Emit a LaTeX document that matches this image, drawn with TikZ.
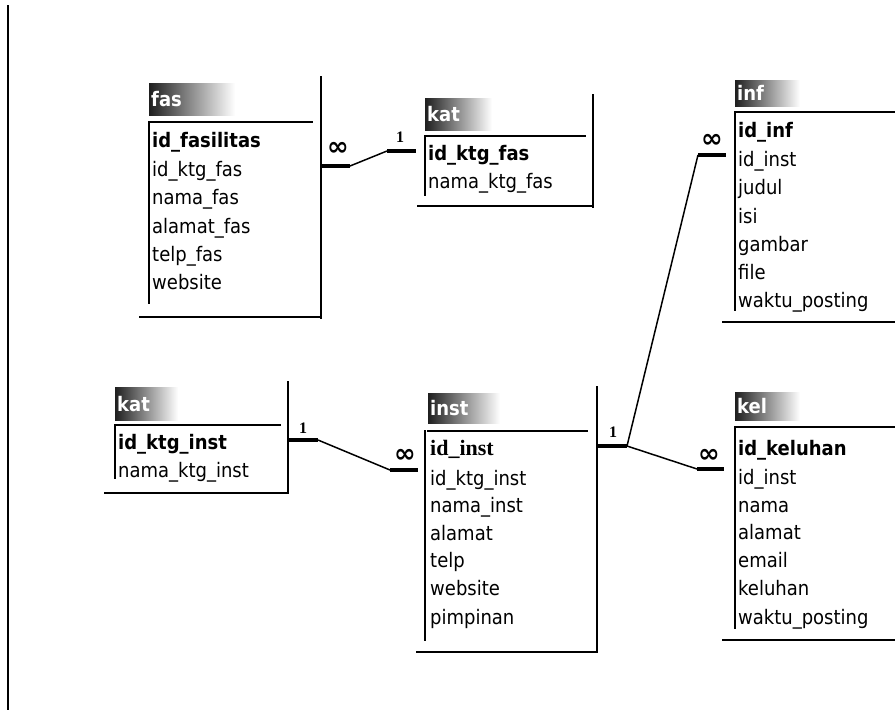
\documentclass[tikz,border=0pt]{standalone}
\usepackage{fontspec}
\newfontfamily\rowf{DejaVu Sans Condensed}
\newfontfamily\serf{Liberation Serif}
\newfontfamily\symf{DejaVu Sans}
\tikzset{
  frame/.style={line width=2.2pt, line cap=rect},
  row/.style={anchor=base west, inner sep=0pt, yshift=-7pt, font=\rowf\fontsize{20}{24}\selectfont},
  keyrow/.style={row, font=\rowf\bfseries\fontsize{20}{24}\selectfont},
  serkey/.style={row, font=\serf\bfseries\fontsize{22}{26}\selectfont},
  ttl/.style={anchor=base west, inner sep=0pt, yshift=-7pt, text=white, font=\rowf\bfseries\fontsize{20}{24}\selectfont},
  titleshade/.style={left color=black!88, right color=white},
  rel/.style={line width=1.5pt},
  relend/.style={line width=3.8pt},
  many/.style={inner sep=0pt, font=\symf\bfseries\fontsize{26}{26}\selectfont},
  one/.style={inner sep=0pt, font=\serf\bfseries\fontsize{16}{16}\selectfont}
}
\begin{document}
\begin{tikzpicture}[x=1pt,y=-1pt]
\useasboundingbox (0,0) rectangle (895,710);
% page edge line
\draw[line width=2pt] (8,5) -- (8,710);

% ---------- fasilitas ----------
\shade[titleshade] (149,83) rectangle (235,115);
\node[ttl] (fasT) at (151,99) {fas};
\draw[frame] (149,122) -- (312,122);
\draw[frame] (149,122) -- (149,303);
\draw[frame] (321,77) -- (321,318);
\draw[frame] (140,317) -- (321,317);
\node[keyrow] (fas1) at (152,140) {id\_fasilitas};
\node[row] (fas2) at (152,169) {id\_ktg\_fas};
\node[row] (fas3) at (152,197) {nama\_fas};
\node[row] (fas4) at (152,226) {alamat\_fas};
\node[row] (fas5) at (152,254) {telp\_fas};
\node[row] (fas6) at (152,282) {website};

% ---------- kategori fas ----------
\shade[titleshade] (425,98) rectangle (492,130);
\node[ttl] (kfT) at (427,114) {kat};
\draw[frame] (425,136) -- (585,136);
\draw[frame] (425,136) -- (425,195);
\draw[frame] (593,95) -- (593,207);
\draw[frame] (418,206) -- (593,206);
\node[keyrow] (kf1) at (428,153) {id\_ktg\_fas};
\node[row] (kf2) at (428,181) {nama\_ktg\_fas};

% ---------- informasi ----------
\shade[titleshade] (735,80) rectangle (800,106);
\node[ttl] (infT) at (737,93) {inf};
\draw[frame] (735,112) -- (895,112);
\draw[frame] (735,112) -- (735,310);
\draw[frame] (723,322) -- (895,322);
\node[keyrow] (inf1) at (738,130) {id\_inf};
\node[row] (inf2) at (738,159) {id\_inst};
\node[row] (inf3) at (738,187) {judul};
\node[row] (inf4) at (738,216) {isi};
\node[row] (inf5) at (738,244) {gambar};
\node[row] (inf6) at (738,272) {file};
\node[row] (inf7) at (738,300) {waktu\_posting};

% ---------- kategori inst ----------
\shade[titleshade] (115,387) rectangle (178,420);
\node[ttl] (kiT) at (117,404) {kat};
\draw[frame] (115,425) -- (280,425);
\draw[frame] (115,425) -- (115,478);
\draw[frame] (288,382) -- (288,493);
\draw[frame] (105,493) -- (288,493);
\node[keyrow] (ki1) at (118,442) {id\_ktg\_inst};
\node[row] (ki2) at (118,470) {nama\_ktg\_inst};

% ---------- instansi ----------
\shade[titleshade] (428,393) rectangle (500,423);
\node[ttl] (insT) at (430,408) {inst};
\draw[frame] (428,431) -- (587,431);
\draw[frame] (425,431) -- (425,640);
\draw[frame] (597,387) -- (597,652);
\draw[frame] (417,652) -- (597,652);
\node[serkey] (ins1) at (430,448) {id\_inst};
\node[row] (ins2) at (430,478) {id\_ktg\_inst};
\node[row] (ins3) at (430,505) {nama\_inst};
\node[row] (ins4) at (430,533) {alamat};
\node[row] (ins5) at (430,560) {telp};
\node[row] (ins6) at (430,588) {website};
\node[row] (ins7) at (430,617) {pimpinan};

% ---------- keluhan ----------
\shade[titleshade] (735,392) rectangle (800,420);
\node[ttl] (kelT) at (737,406) {kel};
\draw[frame] (735,427) -- (895,427);
\draw[frame] (735,427) -- (735,628);
\draw[frame] (723,640) -- (895,640);
\node[keyrow] (kel1) at (738,448) {id\_keluhan};
\node[row] (kel2) at (738,477) {id\_inst};
\node[row] (kel3) at (738,505) {nama};
\node[row] (kel4) at (738,532) {alamat};
\node[row] (kel5) at (738,560) {email};
\node[row] (kel6) at (738,588) {keluhan};
\node[row] (kel7) at (738,617) {waktu\_posting};

% ---------- relationships ----------
% fasilitas (many) -- kategori fas (one)
\coordinate (r1a) at (321,166);
\coordinate (r1b) at (350,166);
\coordinate (r1c) at (387,151);
\coordinate (r1d) at (416,151);
\draw[relend] (r1a) -- (r1b);
\draw[rel] (r1b) -- (r1c);
\draw[relend] (r1c) -- (r1d);
\node[many] (r1m) at (338,149) {∞};
\node[one] (r1o) at (400,137) {1};

% kategori inst (one) -- instansi (many)
\coordinate (r2a) at (288,440);
\coordinate (r2b) at (318,440);
\coordinate (r2c) at (390,470);
\coordinate (r2d) at (418,470);
\draw[relend] (r2a) -- (r2b);
\draw[rel] (r2b) -- (r2c);
\draw[relend] (r2c) -- (r2d);
\node[one] (r2o) at (303,428) {1};
\node[many] (r2m) at (405,456) {∞};

% instansi (one) -- informasi (many)
\coordinate (r3a) at (597,446);
\coordinate (r3b) at (627,446);
\coordinate (r3c) at (698,155);
\coordinate (r3d) at (726,155);
\draw[relend] (r3a) -- (r3b);
\draw[rel] (r3b) -- (r3c);
\draw[relend] (r3c) -- (r3d);
\node[one] (r3o) at (613,432) {1};
\node[many] (r3m) at (712,141) {∞};

% instansi (one) -- keluhan (many)
\coordinate (r4c) at (697,469);
\coordinate (r4d) at (724,469);
\draw[rel] (r3b) -- (r4c);
\draw[relend] (r4c) -- (r4d);
\node[many] (r4m) at (709,456) {∞};
\end{tikzpicture}
\end{document}
